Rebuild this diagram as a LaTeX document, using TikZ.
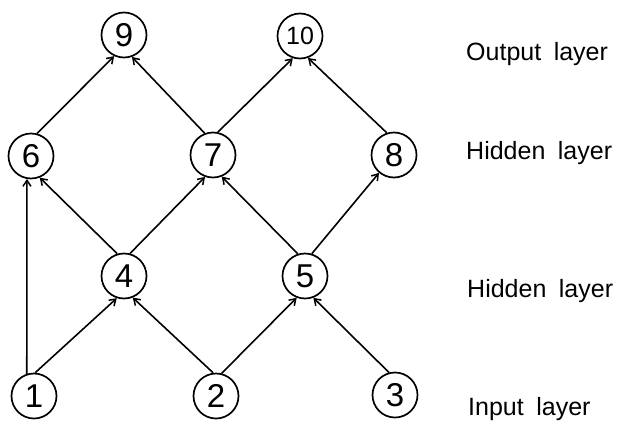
\documentclass[tikz,border=0pt]{standalone}
\usepackage{fontspec}
\setmainfont{Liberation Sans}
\usetikzlibrary{arrows.meta}
\tikzset{
  unit/.style={circle, draw, line width=1.7pt, minimum size=45pt, inner sep=0pt, font=\fontsize{33}{33}\selectfont},
  link/.style={line width=1.6pt, -{Straight Barb[length=6pt,width=8pt,line width=1.5pt]}},
  layername/.style={anchor=base west, inner sep=0pt, font=\fontsize{25}{25}\selectfont}
}
\newcommand{\gap}{\hspace{0.5em}}
\begin{document}
\begin{tikzpicture}[x=1pt,y=-1pt]
\useasboundingbox (0,0) rectangle (617,420);
% units, by layer
\node[unit] (n1) at (34,396) {1};
\node[unit] (n2) at (216,396) {2};
\node[unit] (n3) at (395,395) {3};
\node[unit] (n4) at (124,276) {4};
\node[unit] (n5) at (305,276) {5};
\node[unit] (n6) at (31,156) {6};
\node[unit] (n7) at (213,155) {7};
\node[unit] (n8) at (394,155) {8};
\node[unit] (n9) at (124,35) {9};
\node[unit, font=\fontsize{25}{25}\selectfont] (n10) at (300,36) {10};
% connections
\draw[link] (n1.108) -- (n6.260);
\draw[link] (n1.87) -- (n4.252);
\draw[link] (n2.97) -- (n4.292);
\draw[link] (n2.76) -- (n5.249);
\draw[link] (n3.105) -- (n5.291);
\draw[link] (n4.107) -- (n6.292);
\draw[link] (n4.75) -- (n7.250);
\draw[link] (n5.108) -- (n7.292);
\draw[link] (n5.73) -- (n8.230);
\draw[link] (n6.75) -- (n9.245);
\draw[link] (n7.111) -- (n9.290);
\draw[link] (n7.78) -- (n10.252);
\draw[link] (n8.108) -- (n10.290);
% layer names
\node[layername] (l4) at (466,60) {Output\gap layer};
\node[layername] (l3) at (466,159) {Hidden\gap layer};
\node[layername] (l2) at (467,297) {Hidden\gap layer};
\node[layername] (l1) at (468,415) {Input\gap layer};
\end{tikzpicture}
\end{document}
